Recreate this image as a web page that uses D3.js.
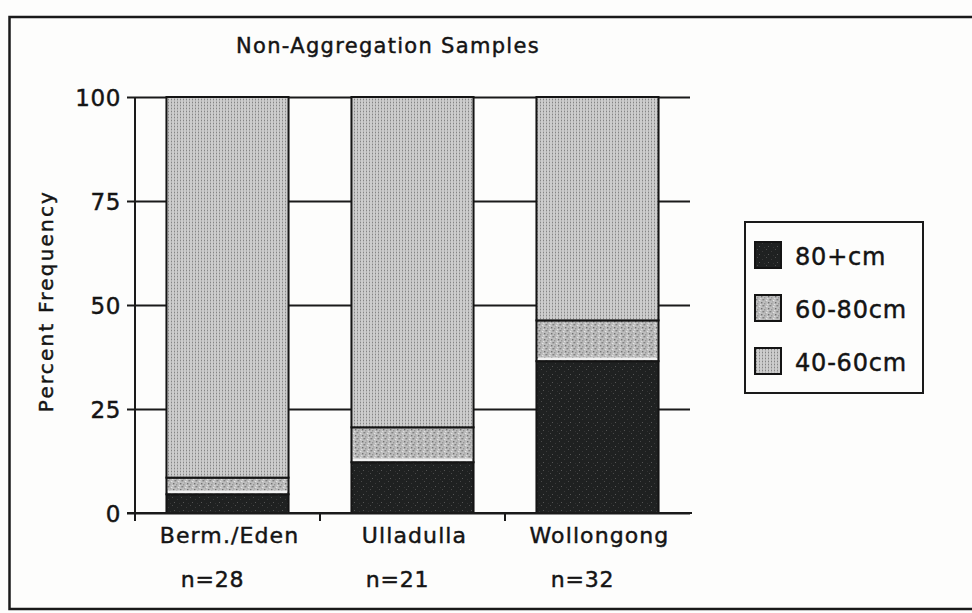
<!DOCTYPE html>
<html>
<head>
<meta charset="utf-8">
<script src="https://cdn.jsdelivr.net/npm/d3@7"></script>
<style>
  html, body { margin: 0; padding: 0; background: #fdfdfc; }
  svg { display: block; }
  text { font-family: "DejaVu Sans", Verdana, sans-serif; fill: #141414; stroke: #141414; stroke-width: 0.45px; }
</style>
</head>
<body>
<svg id="chart" width="972" height="613"></svg>
<script>
// ---- data ----
const categories = ["Berm./Eden", "Ulladulla", "Wollongong"];
const sampleSizes = ["n=28", "n=21", "n=32"];
const seriesNames = ["80+cm", "60-80cm", "40-60cm"];   // stacked bottom -> top
const values80plus = [4.5, 12.2, 36.5];
const values60to80 = [4.0, 8.4, 9.8];
const values40to60 = [91.5, 79.4, 53.7];
const yTicks = [0, 25, 50, 75, 100];
const titleText = "Non-Aggregation Samples";
const yLabelText = "Percent Frequency";

const svg = d3.select("#chart");
const defs = svg.append("defs");

// textures resembling the scanned fills
const p1 = defs.append("pattern").attr("id", "pat4060").attr("patternUnits", "userSpaceOnUse")
  .attr("width", 3).attr("height", 3);
p1.append("rect").attr("width", 3).attr("height", 3).attr("fill", "#cdcdcd");
p1.append("rect").attr("x", 0).attr("y", 0).attr("width", 1).attr("height", 1).attr("fill", "#858585");
p1.append("rect").attr("x", 0).attr("y", 1.5).attr("width", 1).attr("height", 1).attr("fill", "#9e9e9e");

const p2 = defs.append("pattern").attr("id", "pat6080").attr("patternUnits", "userSpaceOnUse")
  .attr("width", 7).attr("height", 6);
p2.append("rect").attr("width", 7).attr("height", 6).attr("fill", "#bdbdbd");
[[0,0,"#828282"],[3,1,"#e2e2e2"],[5,3,"#727272"],[1,4,"#969696"],[4,5,"#dcdcdc"],[6,0,"#9a9a9a"],[2,2,"#a8a8a8"]]
  .forEach(([x, y, c]) => p2.append("rect").attr("x", x).attr("y", y).attr("width", 1.4).attr("height", 1.4).attr("fill", c));

const p3 = defs.append("pattern").attr("id", "pat80").attr("patternUnits", "userSpaceOnUse")
  .attr("width", 9).attr("height", 8);
p3.append("rect").attr("width", 9).attr("height", 8).attr("fill", "#1f2121");
[[1,1,"#4a4a4a"],[6,3,"#3a3a3a"],[3,6,"#555"],[8,7,"#333"]]
  .forEach(([x, y, c]) => p3.append("rect").attr("x", x).attr("y", y).attr("width", 1).attr("height", 1).attr("fill", c));

const fills = { "80+cm": "url(#pat80)", "60-80cm": "url(#pat6080)", "40-60cm": "url(#pat4060)" };

// outer frame
svg.append("rect").attr("x", 9.5).attr("y", 17).attr("width", 975).attr("height", 592)
  .attr("fill", "none").attr("stroke", "#1a1a1a").attr("stroke-width", 2.5);

// scales
const plotLeft = 135, plotRight = 690, plotTop = 97, plotBottom = 513;
const x = d3.scaleBand().domain(categories).range([plotLeft, plotRight])
  .paddingInner(0.34).paddingOuter(0.17);
const y = d3.scaleLinear().domain([0, 100]).range([plotBottom, plotTop]);

// y axis ticks via d3 axis
const yAxis = d3.axisLeft(y).tickValues(yTicks).tickSize(8).tickPadding(6);
const gy = svg.append("g").attr("transform", `translate(${plotLeft},0)`).call(yAxis);
gy.select(".domain").remove();
gy.selectAll(".tick line").attr("stroke", "#1a1a1a").attr("stroke-width", 2);
gy.selectAll(".tick text").attr("font-size", 23).attr("fill", "#141414")
  .attr("font-family", "DejaVu Sans, sans-serif").attr("dy", "0.36em").attr("letter-spacing", 0.6);

// gridlines
const grid = d3.axisLeft(y).tickValues(yTicks).tickSize(-(plotRight - plotLeft)).tickFormat("");
const gg = svg.append("g").attr("transform", `translate(${plotLeft},0)`).call(grid);
gg.select(".domain").remove();
gg.selectAll(".tick line").attr("stroke", "#1a1a1a").attr("stroke-width", 2);

// y axis line
svg.append("line").attr("x1", plotLeft).attr("x2", plotLeft).attr("y1", y(100)).attr("y2", plotBottom + 8)
  .attr("stroke", "#1a1a1a").attr("stroke-width", 2);

// stacked bars
const table = categories.map((c, i) => ({
  cat: c, "80+cm": values80plus[i], "60-80cm": values60to80[i], "40-60cm": values40to60[i]
}));
const stack = d3.stack().keys(seriesNames)(table);

const gBars = svg.append("g");
stack.forEach(layer => {
  gBars.append("g").selectAll("rect").data(layer).join("rect")
    .attr("x", d => x(d.data.cat))
    .attr("width", x.bandwidth())
    .attr("y", d => y(d[1]))
    .attr("height", d => y(d[0]) - y(d[1]))
    .attr("fill", fills[layer.key])
    .attr("stroke", "#141414")
    .attr("stroke-width", 2);
});
// light seam at the bottom of the 60-80 segment (as in the original print)
gBars.append("g").selectAll("line").data(stack[1]).join("line")
  .attr("x1", d => x(d.data.cat) + 1.5).attr("x2", d => x(d.data.cat) + x.bandwidth() - 1.5)
  .attr("y1", d => y(d[0]) - 2.5).attr("y2", d => y(d[0]) - 2.5)
  .attr("stroke", "#f2f2f2").attr("stroke-width", 2.5);

// x axis line with category separators
svg.append("line").attr("x1", plotLeft - 8).attr("x2", plotRight + 2).attr("y1", plotBottom).attr("y2", plotBottom)
  .attr("stroke", "#1a1a1a").attr("stroke-width", 2);
const seps = categories.slice(1).map(c => x(c) - x.step() * x.paddingInner() / 2);
svg.append("g").selectAll("line").data(seps).join("line")
  .attr("x1", d => d).attr("x2", d => d).attr("y1", plotBottom).attr("y2", plotBottom + 8)
  .attr("stroke", "#1a1a1a").attr("stroke-width", 2);

// category labels
svg.append("g").selectAll("text").data(categories).join("text")
  .attr("x", d => x(d) + x.bandwidth() / 2 + 2)
  .attr("y", 543)
  .attr("text-anchor", "middle")
  .attr("font-size", 22)
  .attr("letter-spacing", 1.1)
  .text(d => d);

// sample sizes
svg.append("g").selectAll("text").data(sampleSizes).join("text")
  .attr("x", (d, i) => x(categories[i]) + x.bandwidth() / 2 - 15)
  .attr("y", 587)
  .attr("text-anchor", "middle")
  .attr("font-size", 22)
  .attr("letter-spacing", 0.8)
  .text(d => d);

// title
svg.append("text").attr("x", 388).attr("y", 53).attr("text-anchor", "middle")
  .attr("font-size", 21).attr("letter-spacing", 1.3).text(titleText);

// y label
svg.append("text").attr("transform", "translate(53,301) rotate(-90)").attr("text-anchor", "middle")
  .attr("font-size", 20).attr("letter-spacing", 2.2).text(yLabelText);

// legend
const lg = svg.append("g");
lg.append("rect").attr("x", 745).attr("y", 222).attr("width", 178).attr("height", 171)
  .attr("fill", "#fdfdfc").attr("stroke", "#1a1a1a").attr("stroke-width", 2);
const li = lg.selectAll("g.item").data(seriesNames).join("g").attr("class", "item")
  .attr("transform", (d, i) => `translate(0,${i * 53})`);
li.append("rect").attr("x", 755).attr("y", 242).attr("width", 26).attr("height", 26)
  .attr("fill", d => fills[d]).attr("stroke", "#141414").attr("stroke-width", 2);
li.append("text").attr("x", 795).attr("y", 265).attr("font-size", 24).attr("letter-spacing", 0.8)
  .text(d => d);
</script>
</body>
</html>
